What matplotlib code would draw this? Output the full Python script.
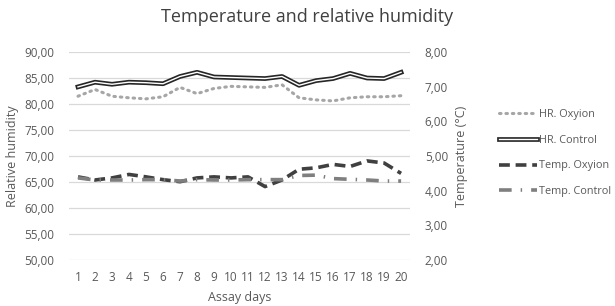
import matplotlib.pyplot as plt
import matplotlib.patheffects as pe
import numpy as np

plt.rcParams['font.family'] = ['Open Sans', 'DejaVu Sans']

days = list(range(1, 21))
hr_oxyion = [81.5, 82.8, 81.5, 81.2, 81.0, 81.4, 83.2, 82.0, 83.0, 83.4,
             83.3, 83.2, 83.7, 81.2, 80.8, 80.6, 81.2, 81.4, 81.4, 81.6]
hr_control = [83.3, 84.2, 83.8, 84.2, 84.1, 83.9, 85.3, 86.1, 85.2, 85.1,
              85.0, 84.9, 85.3, 83.6, 84.5, 84.9, 85.9, 85.0, 84.9, 86.1]
temp_oxyion = [4.40, 4.31, 4.37, 4.47, 4.40, 4.32, 4.26, 4.37, 4.40, 4.37,
               4.40, 4.12, 4.31, 4.62, 4.66, 4.76, 4.70, 4.86, 4.80, 4.50]
temp_control = [4.37, 4.31, 4.31, 4.31, 4.32, 4.32, 4.28, 4.32, 4.31, 4.31,
                4.32, 4.32, 4.32, 4.44, 4.45, 4.35, 4.33, 4.31, 4.28, 4.28]

txt = '#595959'
fig = plt.figure(figsize=(6.15, 3.06), dpi=100)
ax = fig.add_axes([0.113, 0.150, 0.553, 0.680])
ax2 = ax.twinx()

l1, = ax.plot(days, hr_oxyion, color='#a6a6a6', lw=2.2, ls=(0, (0.5, 1.6)),
              dash_capstyle='round', label='HR. Oxyion')
l2, = ax.plot(days, hr_control, color='white', lw=1.0, label='HR. Control',
              path_effects=[pe.Stroke(linewidth=3.4, foreground='#262626'), pe.Normal()])
l3, = ax2.plot(days, temp_oxyion, color='#404040', lw=2.6, ls=(0, (3, 1.6)),
               label='Temp. Oxyion')
l4, = ax2.plot(days, temp_control, color='#7f7f7f', lw=2.6, ls=(0, (3.5, 2.5, 0.4, 2.5)),
               label='Temp. Control')

ax.set_xlim(0.5, 20.5)
ax.set_ylim(50, 90)
ax2.set_ylim(2, 8)
ax.set_yticks(np.arange(50, 91, 5))
ax2.set_yticks(np.arange(2, 9, 1))
ax.set_yticklabels([f'{v:.2f}'.replace('.', ',') for v in np.arange(50, 91, 5)])
ax2.set_yticklabels([f'{v:.2f}'.replace('.', ',') for v in np.arange(2, 9, 1)])
ax.set_xticks(days)
ax.grid(axis='y', color='#d9d9d9', lw=0.9)
ax.set_axisbelow(True)
for a in (ax, ax2):
    for s in a.spines.values():
        s.set_visible(False)
    a.tick_params(length=0, labelsize=8.5, colors=txt)
ax.tick_params(axis='x', pad=8)
ax.tick_params(axis='y', pad=11)
ax2.tick_params(axis='y', pad=11)

ax.set_ylabel('Relative humidity', fontsize=9, color=txt, labelpad=4)
ax2.set_ylabel('Temperature (°C)', fontsize=9, color=txt, labelpad=5)
ax.set_xlabel('Assay days', fontsize=9, color=txt, labelpad=5)
fig.suptitle('Temperature and relative humidity', x=0.5, y=0.975, fontsize=13, color='#404040')

fig.legend(handles=[l1, l2, l3, l4], loc='center left', bbox_to_anchor=(0.795, 0.5),
           frameon=False, fontsize=7.8, labelcolor=txt, handlelength=3.5,
           handletextpad=0.2, labelspacing=1.35)

fig.savefig('out.png', dpi=100)
